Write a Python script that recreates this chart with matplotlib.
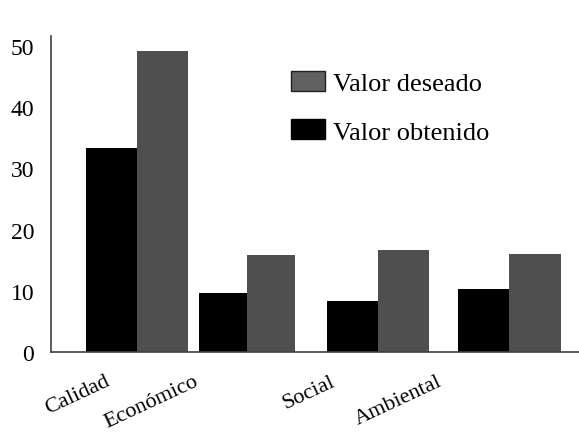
import matplotlib
matplotlib.use("Agg")
import matplotlib.pyplot as plt
from matplotlib.patches import Patch

categories = ["Calidad", "Económico", "Social", "Ambiental"]
valor_obtenido = [33.3, 9.6, 8.3, 10.3]
valor_deseado = [49.1, 15.8, 16.7, 16.0]
y_ticks = [0, 10, 20, 30, 40, 50]

# layout (irregular spacing as in the reference)
centers = [0.16, 1.0, 2.0, 3.0]
widths = [0.389, 0.363, 0.389, 0.393]
label_x = [-0.084, 0.588, 1.634, 2.45]

plt.rcParams['font.family'] = ['Liberation Serif', 'DejaVu Serif']

fig = plt.figure(figsize=(5.79, 4.35), dpi=100)
ax = fig.add_axes([51/579, 1 - 353/435, 528/579, 316/435])

black = "#000000"
gray = "#4f4f4f"
for c, w, vo, vd in zip(centers, widths, valor_obtenido, valor_deseado):
    ax.bar(c - w/2, vo, width=w, color=black, linewidth=0)
    ax.bar(c + w/2, vd, width=w, color=gray, linewidth=0)

ax.set_xlim(-0.496, 3.534)
ax.set_ylim(0, 51.6)
ax.set_yticks(y_ticks)
ax.set_yticklabels([str(t) for t in y_ticks], fontsize=17)
ax.tick_params(axis='y', length=0, pad=12)
ax.set_xticks(label_x)
ax.set_xticklabels(categories, fontsize=16, rotation=25, ha='right',
                   rotation_mode='anchor')
ax.tick_params(axis='x', length=0, pad=14)

for s in ['top', 'right']:
    ax.spines[s].set_visible(False)
for s in ['left', 'bottom']:
    ax.spines[s].set_color('#404040')
    ax.spines[s].set_linewidth(1.2)

handles = [Patch(facecolor='#606060', edgecolor='#202020', linewidth=1.0),
           Patch(facecolor=black, edgecolor=black, linewidth=1.0)]
fig.legend(handles, ["Valor deseado", "Valor obtenido"],
           loc='upper left', bbox_to_anchor=(291/579, 1 - 72/435),
           frameon=False, fontsize=19, handlelength=1.29, handleheight=0.8,
           handletextpad=0.3, labelspacing=0.91, borderpad=0, borderaxespad=0)

fig.savefig("out.png", dpi=100)
